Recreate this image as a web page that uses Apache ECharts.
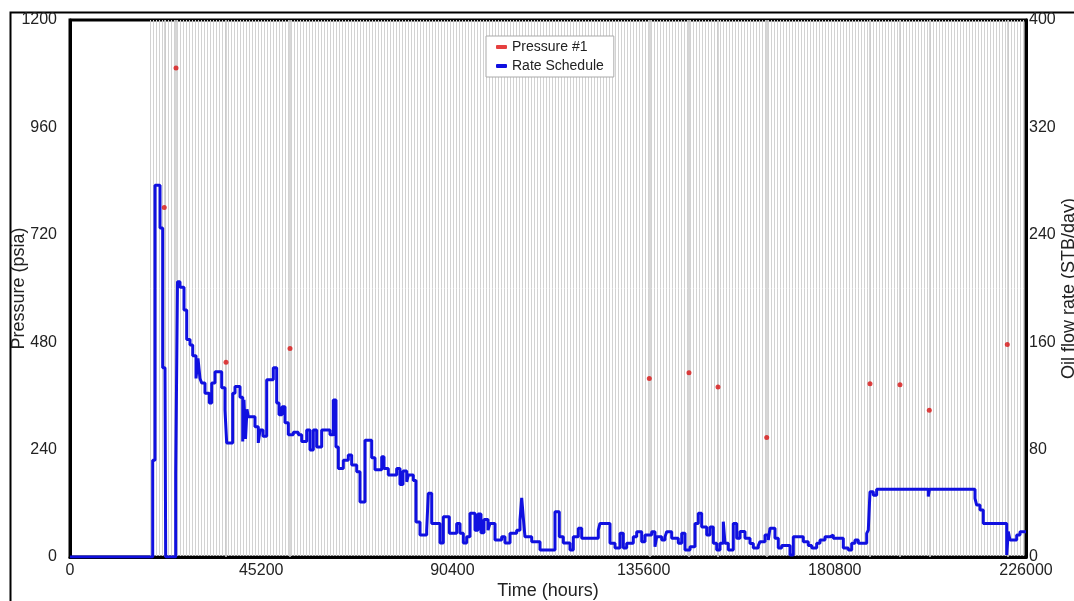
<!DOCTYPE html>
<html>
<head>
<meta charset="utf-8">
<title>Pressure / Rate Schedule</title>
<script src="https://cdn.jsdelivr.net/npm/echarts@6/dist/echarts.min.js"></script>
<style>
  html, body { margin: 0; padding: 0; background: #fff; }
  #chart { width: 1074px; height: 601px; }
</style>
</head>
<body>
<div id="chart"></div>
<script>
// 压力 / 产量历史图
var chartDom = document.getElementById('chart');
var myChart = echarts.init(chartDom);

// 产量阶梯 (时间 hours)
var rateTimes = [
  0, 19550, 20090, 21280, 21910, 22460, 22620, 24990, 25410, 26000,
  26950, 27590, 28370, 29010, 29790, 30260, 30730, 31130, 31910, 32930,
  33500, 34280, 35860, 36640, 37040, 38460, 39010, 40190, 40830, 41130,
  41490, 41840, 42150, 43730, 44510, 44920, 45630, 46500, 48060, 48860,
  49410, 50120, 50830, 51610, 52790, 53970, 54770, 55960, 56740, 57520,
  58320, 59500, 61460, 62240, 62880, 63430, 64610, 65790, 66590, 67780,
  68560, 69740, 71320, 72100, 73690, 74230, 75250, 77230, 78010, 78720,
  79600, 79970, 81160, 81790, 82740, 84320, 84700, 85510, 87470, 88250,
  89670, 91420, 92200, 92980, 93780, 94560, 95740, 96450, 97160, 97870,
  98820, 99290, 100470, 102050, 102830, 104020, 105600, 106380, 106780, 107210,
  107560, 109150, 111110, 114650, 115670, 116620, 118200, 118980, 120160, 120970,
  124890, 125290, 127660, 128840, 130020, 130800, 131600, 133160, 133970, 135150,
  135930, 137510, 138290, 138700, 139880, 140660, 141060, 142240, 143800, 144610,
  145390, 146570, 147750, 148530, 149330, 150520, 151300, 152080, 152880, 153660,
  154440, 154840, 155620, 156800, 157610, 158390, 159570, 160750, 161530, 162710,
  163120, 164300, 165080, 165480, 166660, 167440, 168250, 170210, 170990, 173350,
  174530, 175340, 176520, 177300, 178480, 179660, 180440, 182810, 183990, 184790,
  185570, 186350, 188340, 188720, 189120, 189900, 190700, 199760, 200230, 202900,
  203190, 208430, 208740, 213940, 214340, 215120, 215900, 221440, 221810, 222220,
  223800, 224580, 226000
];
// 产量 (STB/day)
var rateValues = [
  0, 72, 277, 245, 141, 136, 0, 62, 205, 201,
  184, 162, 158, 150, 133, 148, 133, 129.6, 122, 114.7,
  129.6, 138, 126, 109.5, 85, 122, 127, 119, 86, 117,
  88, 110, 104.5, 97, 85, 94.6, 90, 132, 141, 114.7,
  106, 112, 100, 91, 93, 91, 86, 94.6, 79.7, 94.6,
  82, 94.6, 91, 117, 82, 66, 72, 76, 68.5, 63.5,
  41, 87, 74, 65, 74.7, 66, 61, 66, 54, 64,
  56, 61, 57, 26, 16.4, 20, 47.4, 25, 10.4, 30,
  17.6, 25, 17.6, 10.4, 15, 32.5, 20, 32, 18, 28,
  20, 25, 12.7, 15, 10.4, 17.6, 20, 27.5, 44, 27.5,
  15, 11.4, 5.2, 33.7, 15, 10.4, 5.2, 15, 21.4, 14,
  20, 25, 10.2, 6.7, 17.6, 6.7, 10.2, 15, 18.9, 11.4,
  16.4, 18.9, 7.7, 15, 12.7, 15, 18.9, 14, 10.2, 17.6,
  5.2, 7.7, 25, 32.5, 22.3, 16.4, 22.3, 10.2, 5.2, 10.2,
  26.3, 10.2, 5.2, 25, 14, 19, 14, 10, 6.7, 8.5,
  11.4, 16.4, 12.7, 21.4, 14, 6.7, 8.5, 1.5, 15, 11.4,
  8.5, 6.7, 10.2, 12.7, 15, 16.4, 14, 6.7, 5.2, 10.2,
  12.7, 10.2, 17.6, 20, 48.6, 46, 50.4, 51.2, 50.4, 45,
  50.4, 51.2, 50.4, 43.7, 38.7, 35, 25, 1.5, 18.9, 12.7,
  16.4, 18.9, 18.9
];

// 压力测点
var pressTimes = [22290, 25060, 36880, 52010, 136950, 146330, 153190, 164700, 189120, 196210, 203140, 221580];
var pressValues = [781, 1093, 435, 466, 399, 412, 380, 267, 387, 385, 328, 475];

// 坐标刻度
var xTicks = [0, 45200, 90400, 135600, 180800, 226000];
var pressTicks = [0, 240, 480, 720, 960, 1200];
var rateTicks = [0, 80, 160, 240, 320, 400];

var fontName = 'Liberation Sans';

function pairs(xs, ys) {
  return xs.map(function (x, i) { return [x, ys[i]]; });
}

function plain(v) {
  return String(v);
}

function getOption() {
  return {
    animation: false,
    backgroundColor: '#fff',
    textStyle: { fontFamily: fontName },
    // 外框
    graphic: [
      {
        type: 'rect',
        left: 8, top: 10,
        shape: { width: 1100, height: 640 },
        style: { fill: 'none', stroke: '#000', lineWidth: 2 },
        silent: true, z: -10
      }
    ],
    legend: {
      orient: 'vertical',
      left: 486,
      top: 36,
      padding: [4, 10, 4, 10],
      itemGap: 5,
      itemWidth: 11,
      itemHeight: 4,
      backgroundColor: '#fff',
      borderColor: '#aaa',
      borderWidth: 1,
      textStyle: { fontSize: 14, color: '#222', fontFamily: fontName },
      data: [
        { name: 'Pressure #1', icon: 'roundRect', itemStyle: { color: '#e01010' } },
        { name: 'Rate Schedule', icon: 'roundRect', itemStyle: { color: '#1010e0' } }
      ]
    },
    grid: [
      {
        left: 70, right: 48, top: 20, bottom: 44,
        containLabel: false, outerBoundsMode: 'none',
        show: true, borderColor: '#000', borderWidth: 3, backgroundColor: 'transparent'
      },
      // 背景网格区域
      { left: 150, right: 48, top: 20, bottom: 44, containLabel: false, outerBoundsMode: 'none' }
    ],
    xAxis: [
      {
        type: 'value',
        min: xTicks[0],
        max: xTicks[xTicks.length - 1],
        interval: xTicks[1] - xTicks[0],
        name: 'Time (hours)',
        nameLocation: 'middle',
        nameGap: 25,
        nameMoveOverlap: false,
        nameTextStyle: { fontSize: 18, color: '#222' },
        axisLine: { show: true, lineStyle: { color: '#000', width: 3 } },
        axisTick: { show: false },
        splitLine: { show: false },
        axisLabel: { fontSize: 16, color: '#222', margin: 6, formatter: plain }
      },
      {
        type: 'value',
        gridIndex: 1,
        min: 0,
        max: 292,
        interval: 1,
        axisLine: { show: false },
        axisTick: { show: false },
        axisLabel: { show: false },
        splitLine: { show: true, lineStyle: { color: '#d2d2d2', width: 1 } }
      }
    ],
    yAxis: [
      {
        type: 'value',
        min: pressTicks[0],
        max: pressTicks[pressTicks.length - 1],
        interval: pressTicks[1] - pressTicks[0],
        name: 'Pressure (psia)',
        nameLocation: 'middle',
        nameGap: 42,
        nameMoveOverlap: false,
        nameTextStyle: { fontSize: 18, color: '#222' },
        axisLine: { show: true, lineStyle: { color: '#000', width: 3 } },
        axisTick: { show: false },
        splitLine: { show: false },
        axisLabel: { fontSize: 16, color: '#222', margin: 13, formatter: plain }
      },
      {
        type: 'value',
        position: 'right',
        min: rateTicks[0],
        max: rateTicks[rateTicks.length - 1],
        interval: rateTicks[1] - rateTicks[0],
        name: 'Oil flow rate (STB/day)',
        nameLocation: 'middle',
        nameGap: 34,
        nameRotate: 90,
        nameMoveOverlap: false,
        nameTextStyle: { fontSize: 18, color: '#222' },
        axisLine: { show: true, lineStyle: { color: '#000', width: 3 } },
        axisTick: { show: false },
        splitLine: { show: false },
        axisLabel: { fontSize: 16, color: '#222', margin: 3, formatter: plain }
      },
      {
        type: 'value',
        gridIndex: 1,
        min: 0,
        max: 23,
        interval: 1,
        axisLine: { show: false },
        axisTick: { show: false },
        axisLabel: { show: false },
        splitLine: { show: true, lineStyle: { color: '#d0d0d0', width: 1, type: [1, 2] } }
      }
    ],
    series: [
      {
        name: 'Pressure #1',
        type: 'scatter',
        xAxisIndex: 0,
        yAxisIndex: 0,
        symbol: 'circle',
        symbolSize: 5,
        itemStyle: { color: '#d81414' },
        data: pairs(pressTimes, pressValues),
        z: 4,
        markLine: {
          silent: true,
          symbol: 'none',
          label: { show: false },
          lineStyle: { color: '#cacaca', width: 1.5, type: 'solid' },
          data: pressTimes.map(function (t) { return { xAxis: t }; }),
          z: 1
        }
      },
      {
        name: 'Rate Schedule',
        type: 'line',
        xAxisIndex: 0,
        yAxisIndex: 1,
        step: 'end',
        symbol: 'none',
        lineStyle: { color: '#1010e0', width: 3 },
        itemStyle: { color: '#1010e0' },
        data: pairs(rateTimes, rateValues),
        z: 3
      }
    ]
  };
}

myChart.setOption(getOption());
</script>
</body>
</html>
